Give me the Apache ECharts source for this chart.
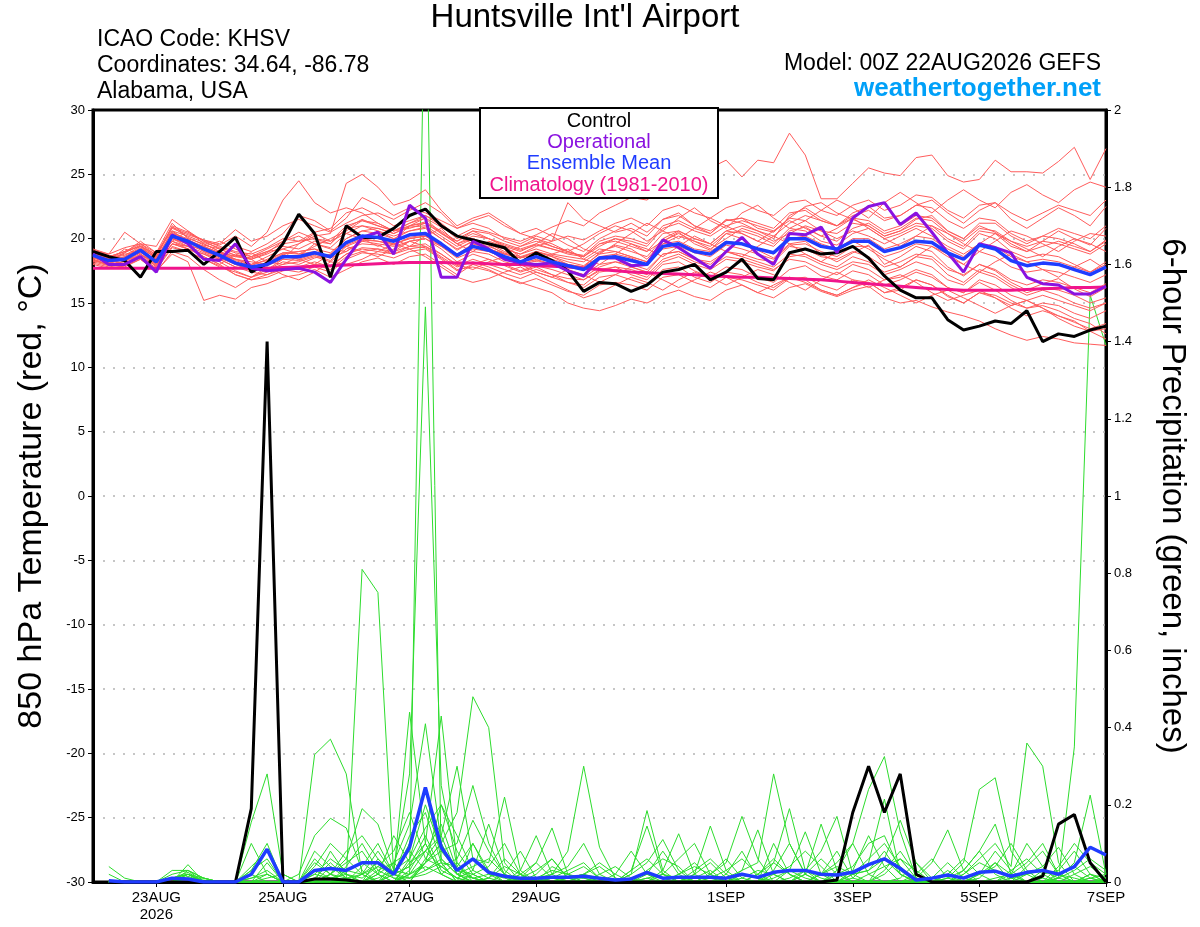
<!DOCTYPE html>
<html><head><meta charset="utf-8">
<script src="https://cdn.jsdelivr.net/npm/echarts@6/dist/echarts.min.js"></script>
<style>html,body{margin:0;padding:0;background:#fff}#c{width:1200px;height:927px}</style>
</head><body><div id="c"></div>
<script>
// ---------- categories (6-hourly, 22AUG 00Z .. 7SEP 00Z) ----------
const days = ['22AUG','23AUG','24AUG','25AUG','26AUG','27AUG','28AUG','29AUG','30AUG','31AUG','1SEP','2SEP','3SEP','4SEP','5SEP','6SEP','7SEP'];
const hours = ['00Z','06Z','12Z','18Z'];
const tickIndex = [4,12,20,28,40,48,56,64];
const tickLabels = ['23AUG\n2026','25AUG','27AUG','29AUG','1SEP','3SEP','5SEP','7SEP'];

// ---------- 850 hPa temperature (°C) ----------
const tempControl = [19.0,18.6,18.3,17.0,19.0,19.0,19.1,18.0, 19.0,20.1,17.4,18.1,19.6,21.9,20.4,17.0, 21.0,20.1,20.1,20.8,21.8,22.3,21.0,20.2, 19.9,19.6,19.3,18.1,18.9,18.3,17.5,15.9, 16.6,16.5,15.9,16.4,17.4,17.6,18.0,16.8, 17.4,18.4,16.9,16.8,18.9,19.2,18.8,18.9, 19.4,18.5,17.1,16.0,15.4,15.4,13.7,12.9, 13.2,13.6,13.4,14.4,12.0,12.6,12.4,12.9, 13.2];
const tempOper = [18.8,18.0,18.0,18.6,17.4,20.3,19.6,18.4, 18.3,19.6,17.7,17.5,17.6,17.7,17.4,16.6, 18.4,20.1,20.5,18.8,22.6,21.6,17.0,17.0, 19.8,19.2,18.4,18.1,18.0,18.1,17.5,17.1, 18.5,18.5,17.9,18.0,19.9,19.3,18.5,17.7, 19.0,20.1,18.8,18.0,20.4,20.3,20.9,18.9, 21.6,22.5,22.8,21.1,22.0,20.5,18.9,17.4, 19.6,19.3,18.9,17.0,16.5,16.4,15.7,15.7, 16.3];
const tempMean = [18.7,18.3,18.4,19.1,18.2,20.2,19.8,19.2, 18.7,18.1,17.8,18.0,18.6,18.6,18.9,18.6, 19.7,20.2,20.1,19.8,20.3,20.4,19.6,18.7, 19.4,19.1,18.6,18.2,18.6,18.2,17.9,17.6, 18.5,18.6,18.3,18.0,19.4,19.6,19.0,18.8, 19.7,19.6,19.2,18.9,20.0,20.0,19.4,19.2, 19.8,19.8,19.0,19.3,19.8,19.7,18.9,18.4, 19.5,19.2,18.3,17.9,18.1,18.0,17.6,17.2, 17.8];
const tempClim = [17.7,17.7,17.7,17.7,17.7,17.7,17.7,17.7, 17.7,17.7,17.7,17.7,17.75,17.8,17.85,17.9, 17.95,18.0,18.05,18.1,18.15,18.15,18.15,18.1, 18.1,18.05,18.0,18.0,17.9,17.85,17.8,17.7, 17.6,17.5,17.4,17.35,17.3,17.25,17.2,17.1, 17.05,17.0,17.0,16.95,16.9,16.85,16.8,16.7, 16.6,16.5,16.4,16.3,16.2,16.1,16.05,16.0, 16.0,16.0,16.0,16.05,16.1,16.15,16.2,16.2, 16.25];
const tempMembers = [
 [18.9,18.5,19.0,19.4,18.8,20.9,20.1,19.5, 19.2,18.7,18.4,18.9,19.8,20.5,20.0,19.6, 20.8,21.5,21.0,20.6,21.2,21.6,20.9,20.2, 20.8,20.5,20.1,19.8,20.3,20.9,21.4,21.0, 22.0,22.6,23.2,23.0,24.0,24.6,25.1,25.5, 26.1,24.8,26.1,25.9,28.2,26.5,23.1,23.1, 24.3,25.5,25.1,24.9,26.3,26.5,24.9,24.4, 24.6,26.1,25.2,25.2,25.1,26.0,27.1,24.6, 27.0],
 [18.2,17.9,18.0,18.5,17.6,19.3,19.0,18.4, 17.9,17.2,16.8,17.0,17.5,17.7,18.0,17.6, 18.6,19.0,19.2,18.8,19.4,19.3,18.5,17.6, 17.8,17.5,17.0,16.6,16.2,15.8,15.0,14.6, 14.4,14.8,15.3,15.0,15.6,16.0,15.5,15.2, 16.0,16.4,15.8,15.4,16.2,16.5,15.9,15.5, 16.0,16.3,15.4,15.0,15.2,14.7,14.3,14.0, 13.6,13.0,12.5,12.1,12.4,12.2,11.9,11.8, 11.7],
 [19.1,18.8,20.5,19.6,19.4,21.5,20.6,19.8, 19.5,20.2,19.4,20.5,23.0,24.5,22.8,22.0, 22.4,22.0,21.2,20.6,20.8,21.2,20.5,19.6, 20.0,19.5,18.8,18.5,19.0,18.6,18.0,17.8, 18.9,19.5,19.2,18.4,19.8,20.5,19.6,19.1, 20.4,20.0,19.1,18.5,19.6,19.8,18.8,18.2, 18.9,19.5,18.0,18.6,19.4,19.0,17.8,17.1, 18.0,17.5,16.6,16.0,16.5,16.9,16.1,15.5, 16.2],
 [18.6,18.1,18.5,19.2,18.0,20.4,20.0,19.6, 19.0,18.4,18.0,18.6,19.2,19.6,20.2,20.4, 24.3,25.0,24.0,22.6,23.0,23.8,22.2,21.0, 21.6,22.0,21.2,20.4,20.8,20.2,19.5,19.0, 20.0,20.6,21.2,20.5,21.5,22.0,21.0,20.4, 21.5,21.2,20.6,20.0,21.8,22.4,21.6,21.0, 22.0,22.5,21.6,21.8,22.6,23.0,22.0,21.2, 22.2,22.8,21.5,20.8,21.6,22.4,21.8,21.0, 22.5],
 [18.0,17.7,17.9,18.4,17.5,18.8,18.2,15.2, 15.6,15.3,16.2,16.5,17.0,17.2,17.6,17.0, 17.6,18.2,18.5,18.0,18.6,18.8,18.0,17.2, 18.0,18.4,18.0,17.5,17.9,17.6,17.2,16.8, 17.5,17.8,17.2,16.8,18.0,18.2,17.5,17.0, 17.8,17.6,17.0,16.6,17.6,17.9,17.1,16.8, 17.5,17.2,16.4,16.8,17.4,17.0,16.2,15.8, 16.6,16.0,15.2,14.6,15.0,14.8,14.2,13.8, 14.4],
 [18.5,18.4,18.9,19.5,18.6,20.8,20.3,19.9, 19.6,20.7,19.8,20.2,21.0,21.5,21.0,20.5, 21.2,21.8,22.0,21.5,22.2,22.8,22.0,20.8, 21.2,20.8,20.0,19.6,20.2,19.8,22.8,21.5, 21.0,20.5,20.8,20.2,21.5,21.8,21.0,20.6, 21.4,21.6,20.8,20.5,21.6,22.5,22.8,22.0, 21.5,21.0,20.2,20.6,21.5,21.8,20.6,20.0, 21.0,20.5,19.6,19.0,19.8,20.6,20.0,19.5, 20.8],
 [18.8,18.6,18.2,18.9,18.4,19.8,19.2,18.8, 18.2,17.5,17.0,17.6,18.0,18.2,18.6,18.2, 19.2,19.6,19.5,19.0,19.8,20.0,19.2,18.2, 18.8,18.4,17.9,17.4,17.8,17.2,16.6,16.2, 17.0,17.2,16.8,16.4,17.6,17.8,17.0,16.6, 17.4,17.2,16.6,16.2,17.0,16.8,16.0,15.6, 16.2,16.6,15.8,16.0,16.8,16.4,15.5,15.0, 15.8,15.4,14.6,14.0,14.4,14.0,13.5,13.0, 13.4],
 [18.4,18.0,18.2,19.0,17.9,20.0,19.6,19.0, 18.5,18.0,17.5,17.6,18.2,18.0,18.5,18.8, 20.0,20.6,20.8,20.4,20.9,21.0,20.2,19.4, 20.0,19.6,19.2,18.8,19.2,18.8,18.6,18.4, 19.2,19.0,18.6,18.2,19.6,20.2,19.8,19.4, 20.4,20.6,20.2,19.6,20.8,20.6,19.8,19.5, 20.4,20.8,20.0,20.4,21.0,20.8,19.8,19.2, 20.4,20.0,19.0,18.5,18.8,18.6,18.0,17.4, 18.2],
 [19.0,18.3,18.0,18.8,18.0,19.6,19.4,19.2, 18.8,18.4,18.2,18.0,18.8,19.0,19.2,18.5, 19.0,19.8,19.6,19.4,19.8,20.0,19.4,18.8, 19.2,19.0,18.5,18.0,18.4,18.0,17.6,17.0, 17.8,18.2,18.0,17.6,18.8,19.0,18.4,18.2, 19.0,18.8,18.4,18.2,19.4,19.2,18.6,18.4, 19.0,18.6,17.8,18.2,18.8,18.6,17.6,17.2, 18.0,17.6,16.8,16.4,16.8,16.6,16.2,15.8, 16.5],
 [18.3,18.0,18.6,19.3,18.5,20.5,19.9,19.4, 18.9,18.6,18.4,18.8,19.4,19.2,19.8,19.6, 20.8,21.0,20.6,20.2,20.6,20.9,20.0,19.2, 19.8,19.6,19.0,18.6,19.0,18.7,18.4,18.2, 19.0,19.4,19.0,18.6,20.0,20.6,20.0,19.6, 20.6,20.4,19.8,19.4,20.6,20.9,20.2,19.8, 20.8,21.2,20.4,20.8,21.6,21.4,20.4,19.8, 20.8,20.6,19.8,19.4,19.8,19.6,19.2,18.8, 19.6],
 [18.6,18.2,18.3,18.7,18.2,19.8,19.4,18.9, 18.4,17.8,17.4,17.2,17.8,17.6,18.0,17.9, 18.8,19.2,19.0,18.8,19.2,19.4,18.6,17.8, 18.2,17.8,17.3,16.9,17.4,17.0,16.6,16.4, 17.4,17.6,17.4,17.0,18.2,18.6,18.0,17.6, 18.4,18.2,17.8,17.5,18.6,18.8,18.2,17.8, 18.6,18.2,17.4,17.8,18.6,18.4,17.2,16.6, 17.6,17.2,16.4,15.8,16.2,16.0,15.6,15.0, 15.4],
 [18.9,18.5,18.7,19.4,18.6,21.0,20.5,19.8, 19.2,18.7,18.5,19.0,19.6,19.8,20.5,20.8, 22.0,22.4,21.8,21.0,21.4,21.8,21.0,20.0, 20.6,20.4,19.8,19.4,19.8,19.4,19.0,18.6, 19.6,20.0,19.8,19.4,20.8,21.2,20.6,20.2, 21.0,21.4,21.0,20.6,21.6,21.4,20.6,20.4, 21.2,21.0,20.2,20.6,21.2,21.0,20.0,19.4, 20.6,20.4,19.4,19.0,19.4,19.8,19.4,19.0, 19.8],
 [18.7,18.4,18.8,19.0,18.3,20.0,19.6,19.4, 18.9,18.3,17.9,18.4,18.9,18.8,19.0,18.6, 19.5,20.0,19.8,19.6,20.0,20.2,19.5,18.6, 19.4,19.2,18.8,18.5,18.8,18.4,18.0,17.8, 18.6,18.8,18.5,18.0,19.2,19.4,18.9,18.6, 19.5,19.2,18.8,18.4,19.5,19.6,19.0,18.6, 19.4,19.4,18.6,19.0,19.6,19.4,18.6,18.0, 19.0,18.6,17.8,17.4,17.6,17.4,17.0,16.6, 17.2],
 [18.5,18.1,18.4,19.1,18.1,20.3,19.9,19.3, 18.8,18.2,17.8,18.1,18.6,18.4,18.8,18.5, 19.6,20.2,20.0,19.6,20.0,20.2,19.4,18.5, 19.0,18.8,18.2,17.9,18.3,18.0,17.5,17.2, 18.0,18.2,17.8,17.4,18.8,19.0,18.4,18.0, 19.0,18.6,18.2,17.8,18.8,18.6,18.0,17.6, 18.2,18.0,17.2,17.6,18.2,17.8,16.8,16.4, 17.4,17.0,16.2,15.6,16.0,15.6,15.0,14.6, 15.0],
 [18.6,18.3,18.6,19.2,18.3,20.1,19.8,19.1, 18.6,18.0,17.6,17.9,18.4,18.3,18.7,18.3, 19.4,19.9,19.8,19.5,20.1,20.3,19.6,18.8, 19.6,19.4,18.9,18.5,19.0,18.6,18.2,17.9, 18.8,19.0,18.6,18.2,19.6,19.8,19.2,19.0, 19.8,19.6,19.2,18.8,20.0,20.2,19.6,19.2, 20.0,20.0,19.2,19.6,20.2,20.0,19.2,18.6, 19.6,19.4,18.6,18.2,18.4,18.2,17.8,17.4, 18.0],
 [18.8,18.4,18.5,19.0,18.4,20.1,19.7,19.3, 18.8,18.4,18.0,18.3,18.9,19.0,19.2,18.9, 20.0,20.6,20.4,20.0,20.6,20.8,20.0,19.1, 19.8,19.6,19.2,18.8,19.4,19.8,20.2,19.9, 20.6,21.2,21.6,21.0,22.2,22.6,22.0,21.6, 22.4,22.8,22.2,21.8,22.8,23.0,22.2,21.8, 22.6,23.0,22.2,22.6,23.4,23.2,22.2,21.6, 22.6,22.8,22.0,21.4,22.0,22.6,22.2,21.8, 23.0],
 [18.4,17.9,18.1,18.8,17.8,19.6,19.2,18.6, 18.0,17.2,16.8,17.2,17.6,17.4,17.8,17.4, 18.4,18.9,18.8,18.5,19.0,19.2,18.4,17.5, 18.0,17.6,17.0,16.5,16.9,16.4,15.9,15.6, 16.4,16.6,16.4,16.0,17.0,17.2,16.6,16.2, 17.0,16.8,16.4,16.0,16.9,17.0,16.4,16.0, 16.8,16.6,15.8,16.2,16.8,16.4,15.6,15.0, 15.8,15.6,15.0,14.6,14.8,14.4,13.8,13.4, 12.6],
 [19.2,18.8,19.3,19.6,18.9,20.6,20.2,19.7, 19.3,18.9,18.6,19.2,19.8,20.2,19.6,19.3, 20.4,21.0,20.8,20.4,21.0,21.3,20.6,19.8, 20.4,20.0,19.6,19.2,19.6,19.2,18.8,18.6, 19.6,19.8,19.4,19.0,20.4,20.6,20.0,19.6, 20.6,21.0,20.6,20.2,21.2,21.8,21.4,21.0, 21.8,22.2,21.4,21.8,22.6,22.4,21.4,20.8, 21.6,21.4,20.4,19.8,20.2,20.0,19.6,19.0, 19.9],
 [18.1,17.8,18.0,18.6,17.7,19.4,19.0,18.4, 17.8,17.4,17.0,17.4,17.8,17.8,18.2,17.8, 18.8,19.3,19.2,19.0,19.4,19.6,18.8,17.9, 18.4,18.0,17.6,17.2,17.6,17.2,16.9,16.8, 17.6,17.8,17.6,17.2,18.4,18.8,18.2,17.8, 18.6,18.4,18.0,17.6,18.4,18.2,17.6,17.2, 18.0,17.6,16.8,17.0,17.6,17.2,16.2,15.8, 16.8,16.4,15.6,15.2,15.6,15.2,14.8,14.4, 15.0],
 [18.9,18.6,19.0,19.6,18.7,20.9,20.4,19.9, 19.4,19.0,18.8,19.3,20.0,19.8,20.0,19.8, 21.0,21.4,21.0,20.6,21.0,21.2,20.4,19.6, 20.2,20.0,19.5,19.1,19.5,19.2,18.9,18.7, 19.8,20.2,20.0,19.6,21.0,21.4,20.8,20.4, 21.4,21.6,21.2,20.8,22.0,22.2,21.4,21.0, 21.6,21.4,20.6,21.0,21.8,21.6,20.6,20.0, 21.2,21.2,20.2,19.6,20.2,20.8,20.4,20.0, 21.0],
 [18.7,18.2,18.9,19.8,18.9,21.2,20.0,19.0, 18.6,19.4,19.0,19.6,20.4,21.8,21.4,20.6, 21.6,23.2,22.6,21.8,22.4,22.0,21.4,20.8, 21.4,21.8,21.0,20.4,20.0,19.4,19.0,19.6, 20.4,21.0,20.6,19.8,20.6,21.6,22.4,21.4, 20.8,22.0,22.6,21.6,20.8,21.4,22.2,23.0, 22.4,21.6,22.8,23.6,22.8,22.0,23.0,23.8, 23.0,22.4,23.6,24.2,23.4,22.8,23.8,24.4, 24.0],
 [18.3,18.0,17.8,18.4,17.4,19.0,18.6,17.6, 16.8,16.2,17.0,17.8,17.2,16.8,17.4,18.2, 18.0,18.4,19.0,19.6,19.2,18.6,17.8,17.0, 16.6,16.9,17.4,17.8,17.2,16.6,16.0,15.4, 15.8,16.4,17.0,16.6,16.0,16.8,17.4,17.0, 16.4,17.0,17.6,17.2,16.6,16.0,16.8,17.4, 16.8,16.2,16.8,17.2,16.6,15.8,15.2,15.6, 16.0,15.4,14.8,15.2,14.6,14.0,13.6,12.8, 12.2],
 [19.1,18.7,18.4,19.2,18.6,19.8,20.6,19.6, 19.0,18.6,18.9,18.2,18.0,18.6,19.6,19.2, 19.0,19.8,20.6,20.0,19.4,20.2,20.8,19.6, 19.0,19.8,19.4,18.6,18.2,18.8,19.2,18.4, 18.0,18.8,19.6,19.2,18.6,19.4,20.2,19.6, 19.0,18.6,19.4,20.2,19.6,18.8,18.2,19.0, 19.8,19.2,18.4,17.8,18.6,19.4,18.8,18.0, 17.4,18.2,18.8,18.2,17.6,17.0,17.8,18.4, 17.6],
 [18.5,18.3,19.2,18.8,18.1,20.0,19.4,18.6, 18.0,18.8,18.4,17.6,18.4,19.6,20.4,19.8, 20.4,20.0,19.4,19.9,21.0,21.6,20.4,19.8, 20.6,20.0,19.4,19.0,19.6,20.4,20.0,19.2, 18.8,19.6,20.4,21.2,20.6,20.0,20.8,21.6, 21.0,20.4,19.8,20.6,21.4,20.8,20.2,20.8, 21.6,20.8,20.0,19.4,20.2,21.0,20.4,19.6, 19.0,19.8,20.6,20.2,19.6,19.0,19.8,20.4, 20.2],
 [18.8,18.4,18.0,18.6,17.9,19.6,19.2,18.8, 18.4,17.8,17.6,18.2,18.8,18.4,18.0,18.8, 19.4,19.0,18.6,19.2,19.8,19.4,18.8,18.0, 17.6,18.2,18.6,18.0,17.4,17.0,17.6,17.2, 16.6,17.2,17.8,17.4,16.8,16.2,16.8,17.4, 17.0,16.4,15.8,16.4,17.0,16.6,16.0,15.6, 16.2,16.8,16.2,15.6,15.0,15.6,16.0,15.4, 14.8,14.2,14.8,15.2,14.6,13.8,13.2,12.8, 13.0],
 [18.2,18.6,19.0,19.4,18.4,20.6,19.8,19.4, 19.8,19.2,18.6,19.0,19.2,18.8,19.4,20.0, 20.6,21.4,21.2,20.6,21.2,21.8,21.2,20.2, 19.6,19.2,18.8,19.4,20.0,19.6,19.0,18.6, 19.4,20.0,19.6,19.0,19.8,20.4,19.8,19.2, 20.0,20.8,20.4,19.8,20.4,21.0,20.6,20.0, 20.6,20.2,19.6,20.2,20.8,20.2,19.4,18.8, 19.6,20.4,19.8,19.2,18.6,19.4,20.0,19.6, 19.0]
];

// ---------- 6-hour precipitation (inches); index 0 has no accumulation ----------
const precipControl = [null, 0,0,0,0,0,0,0,0, 0,0.19,1.40,0,0,0.008,0.008,0.005, 0,0,0,0,0,0,0,0, 0,0,0,0,0,0,0,0, 0,0,0,0,0,0,0,0, 0,0,0,0,0,0,0.005,0.18, 0.30,0.18,0.28,0.02,0,0,0,0, 0,0,0,0.015,0.15,0.175,0.05,0];
const precipMean = [null, 0.003,0,0,0,0.01,0.008,0,0, 0,0.02,0.085,0,0,0.03,0.035,0.03, 0.05,0.05,0.02,0.09,0.245,0.09,0.03,0.06, 0.025,0.015,0.01,0.01,0.012,0.012,0.015,0.01, 0.005,0.008,0.025,0.01,0.012,0.012,0.012,0.01, 0.02,0.012,0.025,0.03,0.03,0.02,0.018,0.025, 0.045,0.06,0.035,0.005,0.01,0.018,0.01,0.025, 0.028,0.015,0.025,0.03,0.02,0.04,0.09,0.07];
const precipMembers = [
 [null, 0,0,0,0,0,0,0,0, 0,0.02,0,0,0,0,0,0, 0,0,0,0.02,2.45,0.05,0,0.1, 0.02,0,0,0,0,0,0,0, 0,0,0,0,0,0,0,0, 0,0,0.1,0.02,0,0,0,0, 0,0,0,0,0,0,0,0.01, 0.05,0,0,0,0,0,0,0],
 [null, 0,0,0,0,0,0,0,0, 0,0,0.05,0,0,0,0.08,0.02, 0,0.01,0.03,0.28,1.49,0.25,0.04,0.01, 0,0,0,0,0,0,0,0, 0,0.02,0.185,0.03,0,0,0,0, 0,0,0,0,0,0,0,0.01, 0.05,0.215,0.02,0,0,0,0,0, 0,0,0,0,0,0,0,0],
 [null, 0,0,0,0,0,0.045,0,0, 0,0,0,0,0,0,0,0.01, 0.81,0.75,0.02,0,0.05,0.1,0.18,0.48, 0.40,0.05,0,0,0,0,0,0, 0,0,0,0,0,0,0,0, 0,0.02,0.05,0.19,0.03,0,0,0, 0,0,0,0,0,0,0.02,0.06, 0.1,0.04,0.36,0.30,0.05,0,0,0],
 [null, 0,0,0,0,0,0,0,0, 0,0,0,0,0,0.33,0.37,0.28, 0.02,0,0,0.05,0.1,0.02,0,0, 0,0,0,0,0.02,0.08,0.3,0.09, 0.01,0,0,0,0,0,0,0, 0,0,0,0,0,0.02,0.05,0.1, 0.24,0.325,0.13,0.01,0,0,0,0, 0,0,0,0,0,0,0.01,0],
 [null, 0,0,0,0,0,0,0,0, 0,0.155,0.28,0.02,0,0,0,0, 0,0,0.02,0.44,0.1,0.43,0.05,0, 0,0,0,0,0,0,0,0, 0,0,0,0,0,0,0,0.01, 0.03,0.05,0.28,0.1,0.02,0,0,0, 0,0,0,0,0,0,0,0, 0,0,0,0,0.01,0.05,0.225,0.02],
 [null, 0,0,0,0,0,0,0,0, 0,0,0,0,0,0,0,0, 0,0,0,0.02,0.05,0.08,0.1,0.25, 0.1,0.02,0,0,0,0,0,0, 0,0,0,0,0,0.02,0.145,0.03, 0,0,0,0,0,0,0,0, 0,0,0,0,0,0.01,0.05,0.24, 0.27,0.08,0.02,0,0.01,0.35,1.52,1.39],
 [null, 0,0,0,0,0,0,0,0, 0,0,0,0,0.02,0.12,0.165,0.14, 0.03,0,0.05,0.15,0.41,0.1,0.02,0, 0,0,0.02,0.05,0.14,0.02,0,0, 0,0,0,0.03,0.125,0.02,0,0, 0,0,0,0,0.03,0.08,0.17,0.02, 0,0,0,0,0,0,0,0, 0,0,0,0,0,0,0,0],
 [null, 0,0,0,0,0,0,0,0, 0,0,0,0,0,0,0.02,0.06, 0.19,0.15,0.03,0.02,0.08,0.12,0.3,0.06, 0.05,0.22,0.03,0,0,0,0,0, 0,0,0,0,0,0,0.02,0.05, 0.17,0.06,0,0,0,0,0,0, 0,0,0,0.01,0.05,0.135,0.03,0, 0,0,0,0,0,0,0,0],
 [null, 0.04,0.01,0,0,0.03,0.03,0,0, 0,0,0,0,0,0,0,0, 0,0,0.02,0.12,0.18,0.05,0,0.02, 0,0,0.03,0.12,0.02,0,0,0, 0,0.03,0.145,0.02,0,0,0,0, 0,0,0,0,0.02,0.15,0.03,0, 0,0,0,0,0,0,0.03,0.08, 0.15,0.02,0,0,0,0,0,0],
 [null, 0.02,0,0,0,0.01,0.025,0,0, 0,0.1,0.02,0,0,0,0,0.03, 0.05,0.02,0.12,0.05,0.08,0.15,0.03,0.02, 0.04,0.1,0.02,0,0,0.01,0.02,0, 0.02,0.08,0.02,0,0,0,0,0, 0.03,0.135,0.02,0,0,0,0,0, 0,0,0,0,0,0,0,0, 0,0.02,0.05,0.1,0.02,0,0,0],
 [null, 0,0,0,0,0.01,0.02,0,0, 0,0.03,0.1,0,0,0,0,0, 0.04,0.1,0.02,0,0.05,0.1,0.02,0, 0,0,0,0,0.01,0.03,0.05,0.01, 0,0.02,0.05,0.11,0.03,0,0,0, 0,0,0,0.03,0.13,0.02,0,0, 0,0,0,0,0,0,0,0, 0,0,0,0.02,0.03,0.08,0.02,0.01],
 [null, 0,0,0,0,0,0.01,0,0, 0,0,0,0,0,0.06,0.02,0, 0,0.03,0.05,0.08,0.03,0.05,0.04,0.1, 0.03,0,0.01,0.03,0.06,0.01,0,0, 0,0,0,0.02,0.06,0.1,0.02,0, 0,0,0,0,0,0,0,0.03, 0.12,0.04,0,0,0,0,0,0.02, 0.04,0.1,0.03,0,0,0,0,0],
 [null, 0,0,0,0,0,0,0,0, 0,0,0,0,0,0,0.02,0.05, 0.08,0.02,0,0.03,0.1,0.02,0,0, 0,0.02,0.08,0.01,0,0,0,0, 0,0,0,0,0,0.02,0.05,0.01, 0,0,0.03,0.1,0.02,0,0,0, 0,0,0,0.02,0.06,0.01,0,0, 0,0,0,0,0,0,0,0.01],
 [null, 0,0,0,0,0.02,0.03,0.01,0, 0,0,0,0,0,0.01,0.05,0.01, 0,0,0,0.02,0.04,0.02,0.05,0.01, 0,0,0,0.02,0.06,0.01,0,0, 0,0,0,0,0,0,0.02,0.06, 0.01,0,0,0,0,0,0.03,0.1, 0.02,0,0,0,0.01,0.05,0.01,0, 0,0,0,0,0,0,0,0],
 [null, 0,0,0,0,0,0.02,0,0, 0,0,0.01,0.02,0,0,0,0, 0,0.02,0.05,0.01,0.02,0.04,0.01,0, 0,0,0.01,0.05,0.01,0,0,0.02, 0.04,0.01,0,0,0,0,0,0.02, 0.08,0.01,0,0,0,0.02,0.08,0.01, 0,0,0.01,0.05,0.01,0,0,0, 0,0,0.02,0.04,0.09,0.02,0,0],
 [null, 0,0,0,0,0,0.015,0,0, 0,0,0,0,0,0.02,0.01,0, 0.02,0.05,0.01,0,0.06,0.04,0.01,0.03, 0.15,0.03,0,0,0,0.01,0.02,0.04, 0.01,0,0,0,0,0,0,0, 0,0,0.05,0.02,0,0,0,0, 0,0,0,0,0,0.01,0.03,0.08, 0.02,0,0,0.01,0,0,0.01,0.02],
 [null, 0,0,0,0,0.01,0.02,0,0, 0,0.01,0.03,0,0,0.03,0.01,0.02, 0.01,0.04,0.02,0.01,0.03,0.06,0.02,0.01, 0.02,0.01,0,0.01,0.03,0.02,0.01,0, 0,0.01,0.02,0.01,0,0.01,0.03,0, 0.02,0.01,0,0.01,0.03,0.01,0,0.02, 0.03,0.06,0.02,0,0,0.02,0.01,0, 0.01,0.02,0,0.03,0.01,0,0.02,0],
 [null, 0,0,0,0,0,0.01,0.005,0, 0,0,0,0,0,0.05,0.02,0.01, 0,0.02,0,0.06,0.2,0.08,0.03,0.01, 0,0,0.02,0,0.01,0.01,0.02,0.01, 0,0,0.01,0.02,0.01,0,0,0, 0,0,0.01,0.03,0.01,0,0.02,0.04, 0.1,0.12,0.03,0,0,0,0,0, 0,0.01,0.02,0.03,0.02,0.04,0.01,0],
 [null, 0,0,0,0,0,0.01,0,0, 0,0.03,0.06,0,0,0.01,0,0.04, 0.1,0.03,0.01,0.01,0.05,0.2,0.12,0.03, 0.01,0,0,0,0.01,0.01,0.01,0, 0,0,0.03,0.06,0.04,0,0,0, 0,0,0,0,0,0,0,0, 0.02,0.04,0.06,0.01,0,0.03,0,0, 0,0,0,0,0.01,0.03,0.06,0.03],
 [null, 0,0,0,0,0,0.02,0.01,0, 0,0,0,0,0,0,0.04,0.01, 0.02,0.08,0.02,0.04,0.12,0.03,0.01,0, 0.01,0.04,0.02,0,0,0,0,0.01, 0,0,0.01,0,0.02,0.05,0.01,0, 0.01,0.03,0.02,0,0,0,0,0, 0,0.03,0.08,0.02,0,0,0.02,0.05, 0.03,0.01,0,0,0.02,0.01,0,0],
 [null, 0,0,0,0,0,0.02,0,0, 0,0.04,0.08,0,0,0.02,0.06,0.03, 0.02,0.04,0.08,0.18,0.06,0.12,0.02,0.04, 0.06,0.02,0,0,0,0.02,0.04,0.01, 0,0.03,0.06,0.02,0,0,0.01,0.03, 0.06,0.02,0,0,0.02,0.06,0.02,0, 0,0.02,0.06,0.03,0,0,0,0.02, 0.05,0.02,0.1,0.04,0,0.02,0.04,0.01],
 [null, 0,0,0,0,0.01,0.02,0,0, 0,0,0.02,0,0,0.08,0.04,0.02, 0,0.06,0.02,0.1,0.24,0.06,0.02,0, 0.01,0.06,0.02,0,0.04,0.02,0,0, 0,0,0.02,0.08,0.02,0,0,0, 0,0.02,0.06,0.02,0,0,0,0.02, 0.06,0.1,0.04,0,0,0.02,0.06,0.02, 0,0,0.04,0.08,0.02,0,0.02,0],
 [null, 0,0,0,0,0,0.01,0.01,0, 0,0,0,0,0,0.04,0.1,0.06, 0.02,0,0.03,0.06,0.14,0.2,0.08,0.02, 0,0,0,0.01,0.02,0.04,0.1,0.02, 0,0,0,0,0.02,0.04,0.02,0, 0,0,0.02,0.04,0.08,0.04,0,0, 0,0.06,0.16,0.05,0,0,0,0, 0,0.03,0.06,0.02,0,0,0,0],
 [null, 0,0,0,0,0,0.03,0.01,0, 0,0.01,0.02,0,0,0,0.02,0.08, 0.12,0.06,0.02,0.04,0.08,0.04,0.06,0.16, 0.08,0.02,0,0,0,0,0.02,0.05, 0.02,0,0,0,0,0.03,0.06,0.02, 0,0,0,0,0,0.02,0.04,0.02, 0.03,0.08,0.02,0,0,0,0.01,0.02, 0.08,0.03,0,0,0.04,0.1,0.05,0.02]
];

// ---------- build ----------
const categories = [];
for (let d = 0; d < days.length - 1; d++) for (const h of hours) categories.push(days[d] + ' ' + h);
categories.push(days[days.length - 1] + ' 00Z');

const FONT = "'Liberation Sans', Arial, Helvetica, sans-serif";
const showTick = (idx) => tickIndex.indexOf(idx) >= 0;

const series = [];
precipMembers.forEach((d, k) => series.push({
  name: 'precip member ' + (k + 1), type: 'line', yAxisIndex: 1, data: d,
  symbol: 'none', silent: true, z: 2, clip: true,
  lineStyle: { color: '#2ddc2d', width: 1 }
}));
tempMembers.forEach((d, k) => series.push({
  name: 'temp member ' + (k + 1), type: 'line', yAxisIndex: 0, data: d,
  symbol: 'none', silent: true, z: 3,
  lineStyle: { color: '#ff5c5c', width: 1 }
}));
series.push({ name: 'Climatology (1981-2010)', type: 'line', yAxisIndex: 0, data: tempClim, symbol: 'none', z: 4, lineStyle: { color: '#f0148c', width: 3 } });
series.push({ name: 'Control', type: 'line', yAxisIndex: 0, data: tempControl, symbol: 'none', z: 5, lineStyle: { color: '#000000', width: 3 } });
series.push({ name: 'Operational', type: 'line', yAxisIndex: 0, data: tempOper, symbol: 'none', z: 6, lineStyle: { color: '#8a12e0', width: 3 } });
series.push({ name: 'Ensemble Mean', type: 'line', yAxisIndex: 0, data: tempMean, symbol: 'none', z: 7, lineStyle: { color: '#1f3cff', width: 3.5 } });
series.push({ name: 'Control precip', type: 'line', yAxisIndex: 1, data: precipControl, symbol: 'none', z: 5, lineStyle: { color: '#000000', width: 3 } });
series.push({ name: 'Mean precip', type: 'line', yAxisIndex: 1, data: precipMean, symbol: 'none', z: 7, lineStyle: { color: '#1f3cff', width: 3.5 } });

const txt = (x, y, text, font, fill, align) => ({
  type: 'text', x: x, y: y, z: 101,
  style: { text: text, font: font, fill: fill, textAlign: align, align: align, textVerticalAlign: 'middle', verticalAlign: 'middle' }
});

const chart = echarts.init(document.getElementById('c'), null, { renderer: 'canvas' });
chart.setOption({
  animation: false,
  backgroundColor: '#ffffff',
  textStyle: { fontFamily: FONT },
  grid: { left: 93, right: 94, top: 110, bottom: 45, show: true, borderColor: '#000', borderWidth: 3, backgroundColor: 'transparent' },
  xAxis: {
    type: 'category', data: categories, boundaryGap: false,
    axisLine: { onZero: false, lineStyle: { color: '#000', width: 3 } },
    axisTick: { show: true, interval: (i) => showTick(i), length: 5, lineStyle: { color: '#000', width: 1 } },
    axisLabel: {
      interval: (i) => showTick(i), color: '#000', fontSize: 15, fontFamily: FONT, margin: 7, lineHeight: 17,
      formatter: (v, i) => { const k = tickIndex.indexOf(i); return k >= 0 ? tickLabels[k] : ''; }
    },
    splitLine: { show: false }
  },
  yAxis: [
    {
      type: 'value', min: -30, max: 30, interval: 5, position: 'left',
      name: '850 hPa Temperature (red, \u00B0C)', nameLocation: 'middle', nameGap: 44, nameRotate: 90,
      nameTextStyle: { fontSize: 34, color: '#000', fontFamily: FONT },
      axisLine: { show: true, lineStyle: { color: '#000', width: 3 } },
      axisTick: { show: true, length: 5, lineStyle: { color: '#000' } },
      axisLabel: { color: '#000', fontSize: 13, fontFamily: FONT, margin: 8 },
      splitLine: { show: true, showMinLine: false, showMaxLine: false, lineStyle: { color: '#b4b4b4', width: 1.5, type: [2, 8] } }
    },
    {
      type: 'value', min: 0, max: 2, interval: 0.2, position: 'right',
      name: '6-hour Precipitation (green, inches)', nameLocation: 'middle', nameGap: 50, nameRotate: -90,
      nameTextStyle: { fontSize: 33, color: '#000', fontFamily: FONT },
      axisLine: { show: true, lineStyle: { color: '#000', width: 3 } },
      axisTick: { show: true, length: 5, lineStyle: { color: '#000' } },
      axisLabel: { color: '#000', fontSize: 13, fontFamily: FONT, margin: 8 },
      splitLine: { show: false }
    }
  ],
  series: series,
  graphic: [
    txt(585, 18, "Huntsville Int'l Airport", '33px ' + FONT, '#000', 'center'),
    txt(97, 40, 'ICAO Code: KHSV', '23px ' + FONT, '#000', 'left'),
    txt(97, 66, 'Coordinates: 34.64, -86.78', '23px ' + FONT, '#000', 'left'),
    txt(97, 92, 'Alabama, USA', '23px ' + FONT, '#000', 'left'),
    txt(1101, 64, 'Model: 00Z 22AUG2026 GEFS', '23px ' + FONT, '#000', 'right'),
    txt(1101, 89, 'weathertogether.net', 'bold 26px ' + FONT, '#00a0f8', 'right'),
    { type: 'rect', shape: { x: 480, y: 108, width: 238, height: 90 }, style: { fill: '#fff', stroke: '#000', lineWidth: 2 }, z: 100 },
    txt(599, 121, 'Control', '20px ' + FONT, '#000', 'center'),
    txt(599, 142, 'Operational', '20px ' + FONT, '#8a12e0', 'center'),
    txt(599, 163, 'Ensemble Mean', '20px ' + FONT, '#1f3cff', 'center'),
    txt(599, 185, 'Climatology (1981-2010)', '20px ' + FONT, '#f0148c', 'center')
  ]
});
</script>
</body></html>
